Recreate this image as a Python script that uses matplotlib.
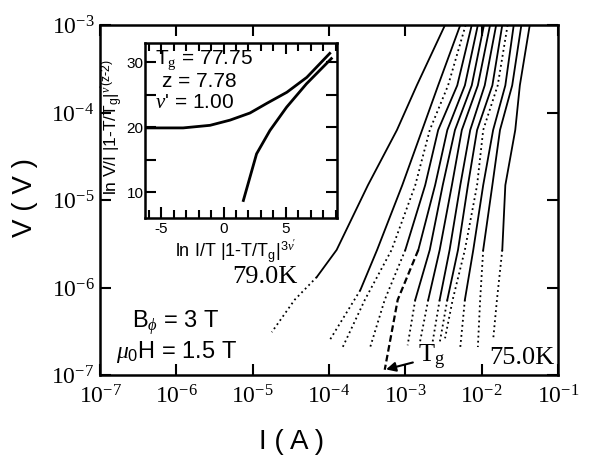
import numpy as np
import matplotlib
matplotlib.use("Agg")
import matplotlib.pyplot as plt
from matplotlib.ticker import NullLocator, MultipleLocator

plt.rcParams['mathtext.fontset'] = 'custom'
plt.rcParams['mathtext.rm'] = 'Liberation Serif'
plt.rcParams['mathtext.it'] = 'Liberation Serif:italic'
plt.rcParams['mathtext.sf'] = 'Liberation Sans'
plt.rcParams['mathtext.bf'] = 'Liberation Serif:bold'
SANS = 'Liberation Sans'
SERIF = 'Liberation Serif'

logV_79K = [-3.0, -3.69, -4.2, -4.83, -5.57, -5.88, -6.14, -6.51]
logI_79K = [-2.48, -2.85, -3.11, -3.49, -3.90, -4.16, -4.45, -4.75]

logV_c = [
    [-3.0, -3.69, -4.2, -4.83, -5.57, -6.03, -6.60],
    [-3.0, -3.69, -4.2, -4.83, -5.57, -6.14, -6.68],
    [-3.0, -3.69, -4.2, -4.83, -5.57, -6.14, -6.68],
    [-3.0, -3.69, -4.2, -4.83, -5.57, -6.14, -6.94],
    [-3.0, -3.69, -4.2, -4.83, -5.57, -6.14, -6.66],
    [-3.0, -3.69, -4.2, -4.83, -5.57, -6.14, -6.63],
    [-3.0, -3.69, -4.2, -4.83, -5.57, -6.14, -6.66],
    [-3.0, -3.69, -4.2, -4.83, -5.57, -6.14, -6.63],
    [-3.0, -3.69, -4.2, -4.83, -5.57, -6.14, -6.58],
    [-3.0, -3.69, -4.2, -4.83, -5.57, -6.14, -6.68],
    [-3.0, -3.69, -4.2, -4.83, -5.57, -6.14, -6.68],
    [-3.0, -3.69, -4.2, -4.83, -5.57, -6.14, -6.60],
]
logI_c = [
    [-2.28, -2.57, -2.78, -3.04, -3.37, -3.59, -3.99],
    [-2.21, -2.44, -2.68, -2.87, -3.18, -3.53, -3.82],
    [-2.13, -2.32, -2.57, -2.74, -3.00, -3.27, -3.46],
    [-2.05, -2.22, -2.45, -2.61, -2.83, -3.10, -3.27],
    [-1.97, -2.13, -2.35, -2.51, -2.68, -2.87, -2.97],
    [-1.89, -2.05, -2.26, -2.39, -2.55, -2.70, -2.81],
    [-1.81, -1.96, -2.15, -2.28, -2.42, -2.55, -2.65],
    [-1.73, -1.86, -2.06, -2.18, -2.31, -2.45, -2.55],
    [-1.66, -1.79, -1.98, -2.06, -2.22, -2.38, -2.48],
    [-1.58, -1.69, -1.85, -1.98, -2.11, -2.22, -2.28],
    [-1.48, -1.60, -1.76, -1.86, -1.98, -2.02, -2.05],
    [-1.37, -1.50, -1.56, -1.69, -1.73, -1.80, -1.85],
]
# index where the measured points thin out into a dotted trail
split_c = [5, 0, 4, 4, 5, 5, 5, 5, 0, 5, 4, 4]
TG_CURVE = 3

XTICKS = [1e-7, 1e-6, 1e-5, 1e-4, 1e-3, 1e-2, 1e-1]
XTICKLABELS = [r'$10^{-7}$', r'$10^{-6}$', r'$10^{-5}$', r'$10^{-4}$',
               r'$10^{-3}$', r'$10^{-2}$', r'$10^{-1}$']
YTICKS = [1e-7, 1e-6, 1e-5, 1e-4, 1e-3]
YTICKLABELS = [r'$10^{-7}$', r'$10^{-6}$', r'$10^{-5}$', r'$10^{-4}$', r'$10^{-3}$']

# inset: scaling collapse
ins_upper_x = [-6.14, -3.24, -1.08, 0.52, 2.12, 3.48, 5.08, 6.68, 8.52]
ins_upper_y = [19.9, 19.9, 20.3, 21.1, 22.2, 23.7, 25.4, 27.7, 31.4]
ins_lower_x = [1.59, 2.65, 3.72, 5.06, 6.65, 8.65]
ins_lower_y = [8.7, 15.9, 19.5, 23.1, 26.7, 30.6]
INS_XTICKS = [-5, 0, 5]
INS_XTICKLABELS = ['-5', '0', '5']
INS_YTICKS = [10, 15, 20, 25, 30]
INS_YTICKLABELS = ['10', '', '20', '', '30']

fig = plt.figure(figsize=(5.94, 4.65), dpi=100)
ax = fig.add_axes([0.1684, 0.1935, 0.771, 0.7527])
ax.set_xscale('log')
ax.set_yscale('log')

solid = dict(color='k', lw=1.3, ls='-')
dots = dict(color='k', lw=1.3, ls=(0, (1, 1.8)))

I = 10 ** np.array(logI_79K)
V = 10 ** np.array(logV_79K)
ax.plot(I[:6], V[:6], **solid)
ax.plot(I[5:], V[5:], **dots)

for k in range(len(logI_c)):
    I = 10 ** np.array(logI_c[k])
    V = 10 ** np.array(logV_c[k])
    s = split_c[k]
    if s > 0:
        ax.plot(I[:s + 1], V[:s + 1], **solid)
    if k == TG_CURVE:
        ax.plot(I[s:], V[s:], color='k', lw=1.6, ls=(0, (3, 1.5)))
    else:
        ax.plot(I[s:], V[s:], **dots)

ax.set_xlim(1e-7, 1e-1)
ax.set_ylim(1e-7, 1e-3)
ax.set_xticks(XTICKS)
ax.set_xticklabels(XTICKLABELS)
ax.set_yticks(YTICKS)
ax.set_yticklabels(YTICKLABELS)
ax.xaxis.set_minor_locator(NullLocator())
ax.yaxis.set_minor_locator(NullLocator())
ax.tick_params(which='major', direction='in', length=8, width=1.5,
               top=True, right=True, labelsize=17)
ax.tick_params(axis='x', pad=7)
ax.tick_params(axis='y', pad=4)
for sp in ax.spines.values():
    sp.set_linewidth(1.8)

fig.text(292 / 594, 0.05, 'I ( A )', family=SANS, fontsize=20,
         ha='center', va='center')
fig.text(25 / 594, 0.575, 'V ( V )', family=SANS, fontsize=20,
         ha='center', va='center', rotation=90)

ax.text(0.288, 0.28, '79.0K', family=SERIF, fontsize=19,
        transform=ax.transAxes, va='center')
ax.text(0.85, 0.05, '75.0K', family=SERIF, fontsize=19,
        transform=ax.transAxes, va='center')
ax.annotate(r'T$_\mathrm{g}$', xy=(10 ** logI_c[TG_CURVE][-1], 10 ** logV_c[TG_CURVE][-1]),
            xytext=(0.695, 0.05), textcoords='axes fraction',
            family=SERIF, fontsize=19, va='center',
            arrowprops=dict(arrowstyle='-|>', color='k', lw=1.5,
                            mutation_scale=14, shrinkA=2, shrinkB=1))
ax.text(0.07, 0.149, r'B$_{\phi}$ = 3 T', family=SANS, fontsize=17,
        transform=ax.transAxes, va='center')
ax.text(0.035, 0.066, r'$\mu_\mathsf{0}$H = 1.5 T', family=SANS, fontsize=17,
        transform=ax.transAxes, va='center')

# inset
axi = fig.add_axes([0.2441, 0.5312, 0.3232, 0.3763])
axi.plot(ins_upper_x, ins_upper_y, color='k', lw=2.0)
axi.plot(ins_lower_x, ins_lower_y, color='k', lw=2.0)
axi.set_xlim(-6.3, 9.1)
axi.set_ylim(6, 33)
axi.set_xticks(INS_XTICKS)
axi.set_xticklabels(INS_XTICKLABELS, family=SANS)
axi.xaxis.set_minor_locator(MultipleLocator(1))
axi.set_yticks(INS_YTICKS)
axi.set_yticklabels(INS_YTICKLABELS, family=SANS)
axi.tick_params(which='both', direction='in', top=True, right=True,
                width=1.5, labelsize=11)
axi.tick_params(which='major', length=8)
axi.tick_params(which='minor', length=6)
axi.tick_params(axis='x', pad=3)
axi.tick_params(axis='y', pad=1)
for sp in axi.spines.values():
    sp.set_linewidth(1.8)

axi.text(0.05, 0.9, r'T$_\mathrm{g}$ = 77.75', family=SANS, fontsize=15,
         transform=axi.transAxes, va='center')
axi.text(0.09, 0.78, 'z = 7.78', family=SANS, fontsize=15,
         transform=axi.transAxes, va='center')
axi.text(0.05, 0.66, r'$\nu$' + "' = 1.00", family=SANS, fontsize=15,
         transform=axi.transAxes, va='center')

fig.text(175 / 594, 0.46, r"ln I/T |1-T/T$_\mathsf{g}$|$^{\mathsf{3}\nu\mathsf{'}}$",
         family=SANS, fontsize=13, ha='left', va='center')
fig.text(112 / 594, 0.727, r"ln V/I |1-T/T$_\mathsf{g}$|$^{\nu\mathsf{'(z\text{-}2)}}$",
         family=SANS, fontsize=12.5, ha='center', va='center', rotation=90)

fig.savefig('out.png', dpi=100, facecolor='white')
